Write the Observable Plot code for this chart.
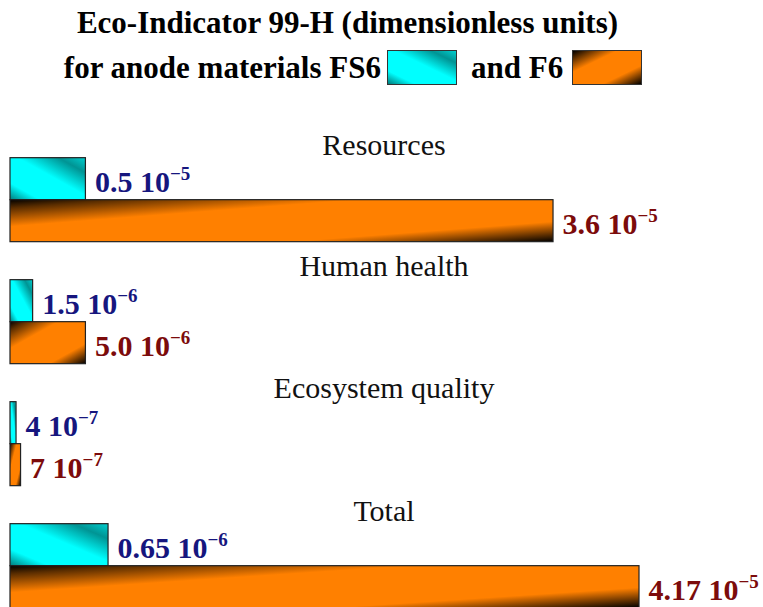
<!DOCTYPE html>
<html>
<head>
<meta charset="utf-8">
<script src="https://cdn.jsdelivr.net/npm/d3@7"></script>
<script src="https://cdn.jsdelivr.net/npm/@observablehq/plot@0.6"></script>
<style>
  html, body { margin: 0; padding: 0; background: #fff; overflow: hidden; }
  #wrap { width: 763px; height: 607px; position: relative; overflow: hidden; }
  #title { position: relative; width: 763px; height: 100px; font-family: "Liberation Serif", "Times New Roman", serif; font-weight: bold; font-size: 31px; color: #000; }
  .tl { position: absolute; white-space: nowrap; text-align: center; line-height: 30px; }
  .box { display: inline-block; width: 70px; height: 35px; box-sizing: border-box; border: 1.5px solid #333; vertical-align: -7px; }
  #chart { position: absolute; left: 0; top: 100px; }
</style>
</head>
<body>
<div id="wrap">
  <div id="title"></div>
  <div id="chart"></div>
</div>
<script>
// ---- data (values in units of 10^-5) ----
const titleLine1 = "Eco-Indicator 99-H (dimensionless units)";
const titleLine2 = "for anode materials";
const categories = ["Resources", "Human health", "Ecosystem quality", "Total"];
const series = ["FS6", "F6"];
const fs6Values = [0.5, 0.15, 0.04, 0.65];
const f6Values = [3.6, 0.5, 0.07, 4.17];
const fs6Labels = ["0.5 10^−5", "1.5 10^−6", "4 10^−7", "0.65 10^−6"];
const f6Labels = ["3.6 10^−5", "5.0 10^−6", "7 10^−7", "4.17 10^−5"];

const cyanCss = "linear-gradient(to top right, #007c7c 0%, #00ffff 20%, #00ffff 55%, #009494 82%, #00cfcf 100%)";
const orangeCss = "linear-gradient(to bottom right, #000 0%, #ff8000 32%, #ff8000 72%, #000 100%)";

// ---- title with legend swatches ----
const title = document.getElementById("title");
const l1 = document.createElement("div");
l1.className = "tl";
l1.style.left = "0px"; l1.style.width = "695px"; l1.style.top = "8px";
l1.textContent = titleLine1;
title.appendChild(l1);
const l2 = document.createElement("div");
l2.className = "tl";
l2.style.left = "0px"; l2.style.width = "706px"; l2.style.top = "50px";
l2.innerHTML = `${titleLine2} ${series[0]}<span class="box" style="margin-left:6px;background:${cyanCss}"></span><span style="margin-left:14px">and ${series[1]}</span><span class="box" style="margin-left:9px;background:${orangeCss}"></span>`;
title.appendChild(l2);

// ---- chart ----
const fs6Data = categories.map((c, i) => ({category: c, series: series[0], value: fs6Values[i], label: fs6Labels[i]}));
const f6Data = categories.map((c, i) => ({category: c, series: series[1], value: f6Values[i], label: f6Labels[i]}));

const font = "Liberation Serif, Times New Roman, serif";
const valueText = (data, color) => Plot.text(data, {
  fy: "category", y: "series", x: "value", text: "label",
  textAnchor: "start", lineAnchor: "bottom", dx: 9, dy: 13,
  fill: color, fontSize: 30, fontWeight: "bold", fontFamily: font
});

const chart = Plot.plot({
  width: 763,
  height: 509,
  marginTop: 18.33,
  marginBottom: 0,
  marginLeft: 10,
  marginRight: 0,
  style: {background: "transparent", overflow: "visible"},
  x: {domain: [0, 4.17], range: [10, 639], axis: null},
  y: {domain: series, padding: 0, insetTop: 36.67, axis: null},
  fy: {domain: categories, padding: 0, axis: null},
  marks: [
    Plot.text(categories, {fy: d => d, text: d => d, frameAnchor: "top", lineAnchor: "bottom", dy: 34, dx: -3,
      fontSize: 30, fontFamily: font, fill: "#111"}),
    Plot.barX(fs6Data, {fy: "category", y: "series", x: "value", fill: "url(#gradCyan)", stroke: "#222", strokeWidth: 1.2}),
    Plot.barX(f6Data, {fy: "category", y: "series", x: "value", fill: "url(#gradOrange)", stroke: "#222", strokeWidth: 1.2}),
    valueText(fs6Data, "#16167e"),
    valueText(f6Data, "#7c0b0b")
  ]
});

const svg = d3.select(chart);
svg.insert("defs", ":first-child").html(`
  <linearGradient id="gradCyan" x1="0" y1="1" x2="1" y2="0">
    <stop offset="0" stop-color="#007c7c"/>
    <stop offset="0.2" stop-color="#00ffff"/>
    <stop offset="0.55" stop-color="#00ffff"/>
    <stop offset="0.82" stop-color="#009494"/>
    <stop offset="1" stop-color="#00cfcf"/>
  </linearGradient>
  <linearGradient id="gradOrange" x1="0" y1="0" x2="1" y2="1">
    <stop offset="0" stop-color="#000"/>
    <stop offset="0.1" stop-color="#5a2d00"/>
    <stop offset="0.32" stop-color="#ff8000"/>
    <stop offset="0.76" stop-color="#ff8000"/>
    <stop offset="0.9" stop-color="#6a3500"/>
    <stop offset="1" stop-color="#000"/>
  </linearGradient>`);

// turn "a 10^b" labels into a base plus a raised exponent
svg.selectAll("text").each(function () {
  const t = this.textContent;
  const m = /^(.*) 10\^(.+)$/.exec(t);
  if (!m) return;
  const el = d3.select(this);
  el.text(null);
  el.append("tspan").text(m[1] + " 10");
  el.append("tspan").attr("dy", "-12").attr("font-size", "19").text(m[2]);
});

document.getElementById("chart").appendChild(chart);
</script>
</body>
</html>
